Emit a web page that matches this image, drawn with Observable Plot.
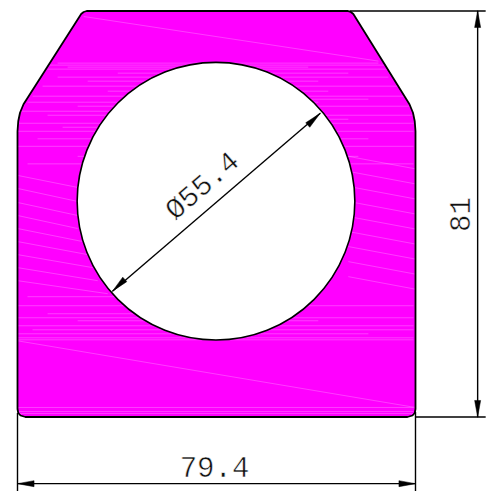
<!DOCTYPE html>
<html><head><meta charset="utf-8">
<style>html,body{margin:0;padding:0;background:#fff}svg{display:block}</style>
<script src="https://cdn.jsdelivr.net/npm/d3@7"></script>
<script src="https://cdn.jsdelivr.net/npm/@observablehq/plot@0.6"></script>
</head><body><script>
// All values in millimetres (origin: lower-left of the part)
const outlineX = [1.6,0.6,0.15,0,0,0.15,0.5,1.2,12.7,13.2,13.8,14.6,65,65.8,66.5,67,78.2,78.9,79.25,79.4,79.4,79.25,78.8,77.8,1.6];
const outlineY = [0,0.3,0.8,1.6,57,59,60.7,62.4,80.4,80.8,81,81,81,81,80.8,80.4,62.4,60.7,59,57,1.6,0.8,0.3,0,0];
const holeX = [39.6], holeY = [43.05], holeDiameter = [55.4];
const dimLabels = ["79.4","81","Ø55.4"];
// faint seams in the fill: horizontal bands
const bandY = [70.6,70.2,69.8,69.4,68.6,67.8,67,66,65,64,63.4,62.8,62,61,60.2,59.4,58.6,57.8,57,55.5,54,52,50.5,24,22.2,20.6,19.8,19.2,18.2,17.4,16.6,15.8,15.4,1.9,1.1,0.7];
const bandFrom = [8,4,10,6,20,8,14,5,18,3,25,2,12,0,6,20,0,9,0,4,0,12,2,2,0,6,0,12,0,3,0,0,0,0,0,0];
const bandTo = [72,76,58,79,66,74,60,79,62,79,70,60,79,50,79,66,79,60,79,70,79,68,79,36,79,45,79,60,79,79,70,79,79,79,79,79];
// faint seams in the fill: slanted lines
const slantX1 = [13.2,0,0,0,0,0,0,0,0,0,0,66,66,66,66,66,66,66,66,66];
const slantY1 = [79.9,15.2,48.2,45.6,42.8,40.2,37.6,35,32.4,29.8,27.2,52,49,46,43,40,37,34,31,28];
const slantX2 = [72,79.4,13,12,12,12,13,14,15,16,18,79.4,79.4,79.4,79.4,79.4,79.4,79.4,79.4,79.4];
const slantY2 = [71,1.9,45.6,43,40.2,37.6,35,32.4,29.8,27.2,24.6,49.5,46.5,43.5,40.5,37.5,34.5,31.5,28.5,25.5];

const outline = outlineX.map((x,i)=>({x,y:outlineY[i]}));
const bands = bandY.map((y,i)=>({x1:bandFrom[i],x2:bandTo[i],y1:y,y2:y}));
const slants = slantX1.map((x1,i)=>({x1,y1:slantY1[i],x2:slantX2[i],y2:slantY2[i]}));
const k = 5.0125;
const xDom = [-17/k,(488-17)/k], yDom = [-(491-416.5)/k,416.5/k];
const black = "#000";
const head = (pts)=>Plot.line(pts,{x:"x",y:"y",fill:black,stroke:black,strokeWidth:0.5});
const tx = {fontFamily:"Liberation Mono",fontSize:29,fill:"#111",stroke:"#fff",strokeWidth:0.5,paintOrder:"fill"};
const chart = Plot.plot({
  width:488,height:491,margin:0,
  x:{domain:xDom,range:[0,488],axis:null},
  y:{domain:yDom,range:[491,0],axis:null},
  r:{type:"linear",domain:[0,holeDiameter[0]/2],range:[0,holeDiameter[0]/2*k]},
  style:{background:"#fff",overflow:"hidden"},
  marks:[
    Plot.line(outline,{x:"x",y:"y",fill:"#ff00ff",stroke:"none"}),
    Plot.link(bands,{x1:"x1",y1:"y1",x2:"x2",y2:"y2",stroke:"#fff",strokeOpacity:0.3,strokeWidth:0.8}),
    Plot.link(slants,{x1:"x1",y1:"y1",x2:"x2",y2:"y2",stroke:"#fff",strokeOpacity:0.4,strokeWidth:0.6}),
    Plot.dot(holeX.map((x,i)=>({x,y:holeY[i],d:holeDiameter[i]/2})),{x:"x",y:"y",r:"d",fill:"#fff",stroke:black,strokeWidth:1.6}),
    Plot.line(outline,{x:"x",y:"y",stroke:black,strokeWidth:1.8,fill:"none"}),
    // extension lines
    Plot.link([{x1:0,y1:0.8,x2:0,y2:-15},{x1:79.4,y1:1,x2:79.4,y2:-15},{x1:66.3,y1:81,x2:93.4,y2:81},{x1:79.4,y1:0,x2:93.4,y2:0}],{x1:"x1",y1:"y1",x2:"x2",y2:"y2",stroke:black,strokeWidth:1.4}),
    // dimension lines
    Plot.link([{x1:0,y1:-13.3,x2:79.4,y2:-13.3},{x1:91.8,y1:0,x2:91.8,y2:81},{x1:18.95,y1:25.1,x2:60.4,y2:60.6}],{x1:"x1",y1:"y1",x2:"x2",y2:"y2",stroke:black,strokeWidth:1.4}),
    head([{x:0,y:-13.3},{x:3.3,y:-12.7},{x:3.3,y:-13.9},{x:0,y:-13.3}]),
    head([{x:79.4,y:-13.3},{x:76.1,y:-12.7},{x:76.1,y:-13.9},{x:79.4,y:-13.3}]),
    head([{x:91.8,y:81},{x:91.2,y:77.7},{x:92.4,y:77.7},{x:91.8,y:81}]),
    head([{x:91.8,y:0},{x:91.2,y:3.3},{x:92.4,y:3.3},{x:91.8,y:0}]),
    head([{x:60.4,y:60.6},{x:57.5,y:58.7},{x:58.3,y:57.8},{x:60.4,y:60.6}]),
    head([{x:18.95,y:25.1},{x:21,y:27.9},{x:21.8,y:27},{x:18.95,y:25.1}]),
    Plot.text([dimLabels[0]],{x:[39.3],y:[-10.2],text:d=>d,...tx}),
    Plot.text([dimLabels[1]],{x:[88.4],y:[40.4],text:d=>d,rotate:-90,...tx}),
    Plot.text([dimLabels[2]],{x:[36.8],y:[46.2],text:d=>d,rotate:-41,...tx})
  ]
});
document.body.append(chart);
</script></body></html>
